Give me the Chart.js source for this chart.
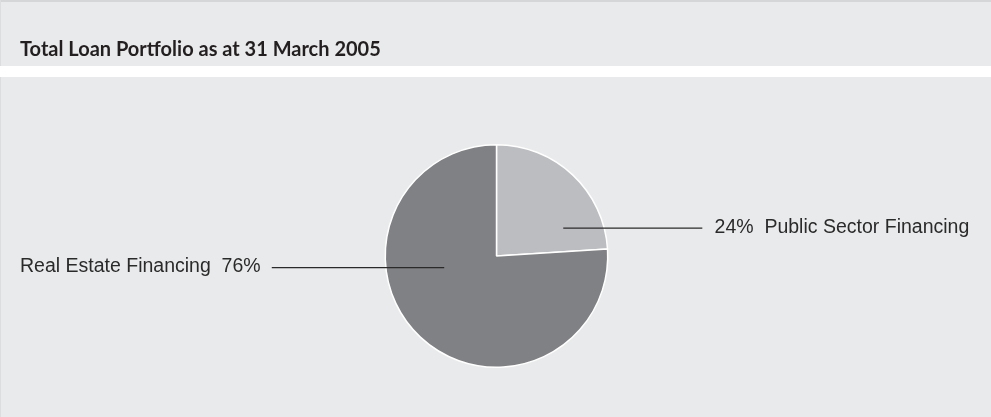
<!DOCTYPE html>
<html>
<head>
<meta charset="utf-8">
<script src="https://cdn.jsdelivr.net/npm/chart.js@4"></script>
<style>
  html, body { margin: 0; padding: 0; background: #e9eaeb; }
  #wrap { width: 991px; height: 417px; position: relative; }
</style>
</head>
<body>
<div id="wrap"><canvas id="loanChart" width="991" height="417"></canvas></div>
<script>
// Chart data
const title = 'Total Loan Portfolio as at 31 March 2005';
const categories = ['Public Sector Financing', 'Real Estate Financing'];
const shares = [24, 76];
const sliceColors = ['#bcbdc0', '#808184'];

// Background bands + title
const panelPlugin = {
    id: 'panel',
    beforeDraw(chart) {
        const ctx = chart.ctx;
        const w = chart.width, h = chart.height;
        ctx.save();
        ctx.fillStyle = '#e9eaeb';
        ctx.fillRect(0, 0, w, h);
        ctx.fillStyle = '#d5d6d8';
        ctx.fillRect(0, 0, w, 2);
        ctx.fillStyle = '#dcdddf';
        ctx.fillRect(0, 0, 1, h);
        ctx.fillStyle = '#ffffff';
        ctx.fillRect(0, 66, w, 11);
        ctx.fillStyle = '#231f20';
        ctx.font = 'bold 20px Lato, "Open Sans", sans-serif';
        ctx.textBaseline = 'alphabetic';
        ctx.fillText(title, 20, 56);
        ctx.restore();
    }
};

// Leader lines and slice labels
const calloutPlugin = {
    id: 'callouts',
    afterDatasetsDraw(chart) {
        const ctx = chart.ctx;
        const arcs = chart.getDatasetMeta(0).data;
        ctx.save();
        ctx.strokeStyle = '#2b2a2b';
        ctx.lineWidth = 1.3;
        ctx.fillStyle = '#2b2a2b';
        ctx.font = '19.5px "Liberation Sans", sans-serif';
        ctx.textBaseline = 'middle';

        // right slice: Public Sector
        const a0 = arcs[0];
        const r = a0.outerRadius;
        const y0 = a0.y - r * 0.25;
        ctx.beginPath();
        ctx.moveTo(a0.x + r * 0.6, y0);
        ctx.lineTo(a0.x + r * 1.85, y0);
        ctx.stroke();
        ctx.textAlign = 'left';
        ctx.fillText(shares[0] + '%  ' + categories[0], a0.x + r * 1.96, y0 - 1);

        // left slice: Real Estate
        const a1 = arcs[1];
        const y1 = a1.y + r * 0.105;
        ctx.beginPath();
        ctx.moveTo(a1.x - r * 0.47, y1);
        ctx.lineTo(a1.x - r * 2.02, y1);
        ctx.stroke();
        ctx.textAlign = 'right';
        ctx.fillText(categories[1] + '  ' + shares[1] + '%', a1.x - r * 2.12, y1 - 1);
        ctx.restore();
    }
};

new Chart(document.getElementById('loanChart'), {
    type: 'pie',
    data: {
        labels: categories,
        datasets: [{
            data: shares,
            backgroundColor: sliceColors,
            borderColor: '#ffffff',
            borderWidth: 1.5
        }]
    },
    options: {
        responsive: false,
        animation: false,
        layout: { padding: { top: 144, bottom: 49, left: 2, right: 0 } },
        plugins: {
            legend: { display: false },
            tooltip: { enabled: false }
        }
    },
    plugins: [panelPlugin, calloutPlugin]
});
</script>
</body>
</html>
